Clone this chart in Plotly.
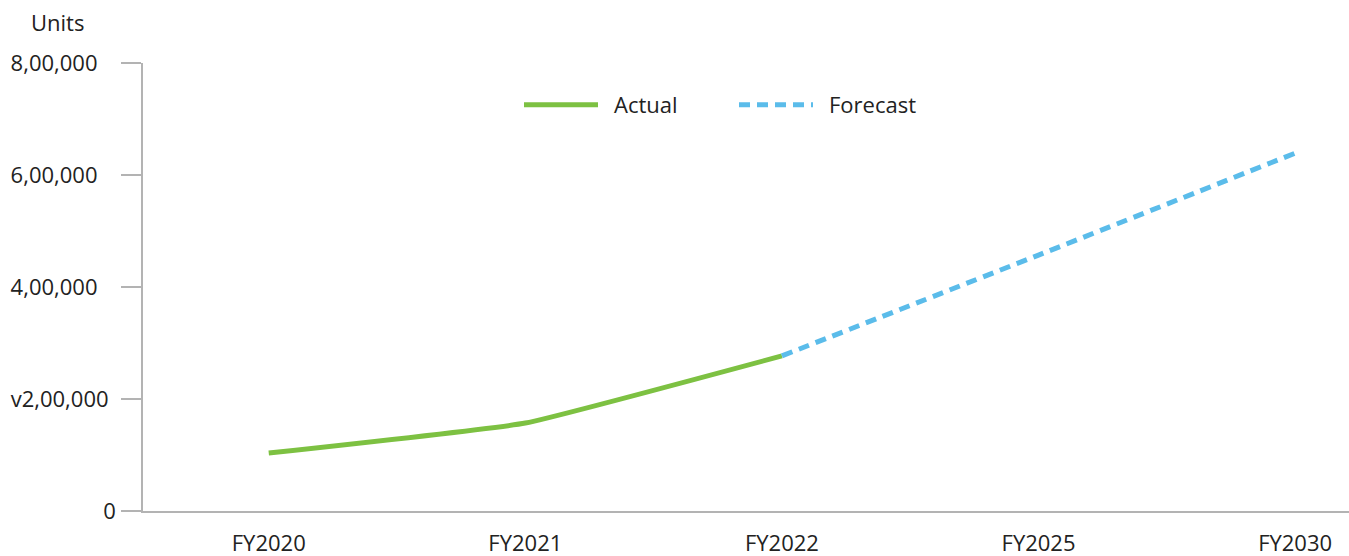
import plotly.graph_objects as go

categories = ["FY2020", "FY2021", "FY2022", "FY2025", "FY2030"]
actual_x = ["FY2020", "FY2021", "FY2022"]
actual_y = [103500, 157000, 277000]
forecast_x = ["FY2022", "FY2025", "FY2030"]
forecast_y = [277000, 457000, 639000]
y_tickvals = [0, 200000, 400000, 600000, 800000]
y_ticktext = ["0", "v2,00,000", "4,00,000", "6,00,000", "8,00,000"]

# trailing padding so label right edges sit where they do in the reference
PAD_WIDE = "\u2007\u2008"
PAD_MID = "\u2009\u2009"
y_ticktext_padded = [
    y_ticktext[0],
    y_ticktext[1] + PAD_MID,
    y_ticktext[2] + PAD_WIDE,
    y_ticktext[3] + PAD_WIDE,
    y_ticktext[4] + PAD_WIDE,
]

FONT = "Open Sans"
TXT = "#222222"
L = 143
PW = 1349 - L

fig = go.Figure()
fig.add_trace(go.Scatter(
    x=actual_x, y=actual_y, name="\u2002Actual", mode="lines",
    line=dict(color="#7dc142", width=5, shape="spline", smoothing=0.3),
))
fig.add_trace(go.Scatter(
    x=forecast_x, y=forecast_y, name="\u2002Forecast", mode="lines",
    line=dict(color="#5bbcea", width=5, dash="11px,7px", shape="spline", smoothing=0.3),
))

fig.update_layout(
    width=1349, height=556,
    margin=dict(l=L, r=0, t=63, b=45),
    paper_bgcolor="white", plot_bgcolor="white",
    font=dict(family=FONT, size=22, color=TXT),
    showlegend=True,
    legend=dict(orientation="h", x=(519 - L) / PW, y=(511 - 105) / 448,
                xanchor="left", yanchor="middle",
                font=dict(family=FONT, size=22, color=TXT), itemwidth=74,
                entrywidth=126, entrywidthmode="pixels",
                bgcolor="rgba(0,0,0,0)"),
    annotations=[dict(text="Units", xref="paper", yref="paper",
                      x=(57 - L) / PW, y=(511 - 22) / 448,
                      xanchor="center", yanchor="middle",
                      showarrow=False, font=dict(family=FONT, size=22, color=TXT))],
)
fig.update_xaxes(
    type="category", categoryorder="array", categoryarray=categories,
    range=[-0.49, 4.21], showgrid=False, zeroline=False,
    showline=True, linecolor="#b3b3b3", linewidth=1.5,
    ticks="", ticklabelstandoff=12,
    tickfont=dict(family=FONT, size=22, color=TXT),
)
fig.update_yaxes(
    range=[0, 800000], tickvals=y_tickvals, ticktext=y_ticktext_padded,
    showgrid=False, zeroline=False,
    showline=True, linecolor="#b3b3b3", linewidth=1.5,
    ticks="outside", ticklen=20, tickcolor="#b3b3b3", tickwidth=1.5,
    ticklabelstandoff=1,
    tickfont=dict(family=FONT, size=22, color=TXT),
)

fig.write_html("out.html")
